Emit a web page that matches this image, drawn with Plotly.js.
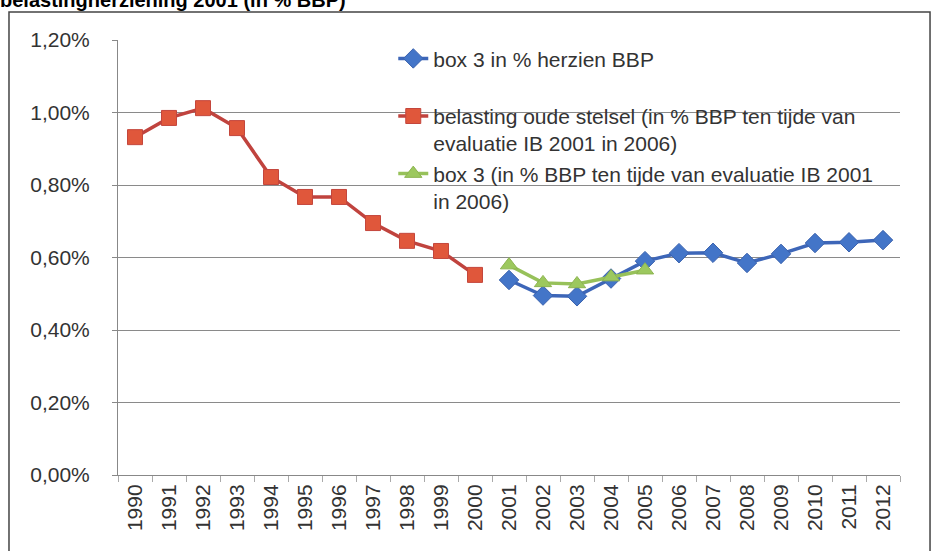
<!DOCTYPE html>
<html>
<head>
<meta charset="utf-8">
<script src="https://cdn.plot.ly/plotly-3.0.1.min.js"></script>
<style>
  html, body { margin: 0; padding: 0; background: #fff; }
  #chart { width: 932px; height: 551px; }
</style>
</head>
<body>
<div id="chart"></div>
<script>
// Years on the category axis
const years = ['1990', '1991', '1992', '1993', '1994', '1995', '1996', '1997', '1998', '1999', '2000',
               '2001', '2002', '2003', '2004', '2005', '2006', '2007', '2008', '2009', '2010', '2011', '2012'];

// belasting oude stelsel, 1990-2000
const oudeYears = ['1990', '1991', '1992', '1993', '1994', '1995', '1996', '1997', '1998', '1999', '2000'];
const oudeValues = [0.932, 0.985, 1.012, 0.957, 0.822, 0.767, 0.767, 0.695, 0.646, 0.618, 0.552];

// box 3 in % herzien BBP, 2001-2012
const herzienYears = ['2001', '2002', '2003', '2004', '2005', '2006', '2007', '2008', '2009', '2010', '2011', '2012'];
const herzienValues = [0.538, 0.495, 0.493, 0.542, 0.590, 0.612, 0.613, 0.585, 0.610, 0.640, 0.642, 0.648];

// box 3 (evaluatie 2006), 2001-2005
const evalYears = ['2001', '2002', '2003', '2004', '2005'];
const evalValues = [0.579, 0.530, 0.527, 0.546, 0.565];

const FONT = 'Liberation Sans, Arial, sans-serif';

const traces = [
    {
        x: herzienYears,
        y: herzienValues,
        name: 'box 3 in % herzien BBP<br> ',
        type: 'scatter',
        mode: 'lines+markers',
        line: { color: '#3D66B8', width: 3.5 },
        marker: { symbol: 'diamond', size: 15, color: '#4375C8', line: { color: '#3A62AE', width: 1 } }
    },
    {
        x: oudeYears,
        y: oudeValues,
        name: 'belasting oude stelsel (in % BBP ten tijde van<br>evaluatie IB 2001 in 2006)',
        type: 'scatter',
        mode: 'lines+markers',
        line: { color: '#C0433E', width: 3.5 },
        marker: { symbol: 'square', size: 15, color: '#E0573B', line: { color: '#C4463C', width: 1 } }
    },
    {
        x: evalYears,
        y: evalValues,
        name: 'box 3 (in % BBP ten tijde van evaluatie IB 2001<br>in 2006)',
        type: 'scatter',
        mode: 'lines+markers',
        line: { color: '#97C15A', width: 3.5 },
        marker: { symbol: 'triangle-up', size: 15, color: '#9CC85E', line: { color: '#8DB450', width: 1 } }
    }
];

const layout = {
    width: 932,
    height: 551,
    margin: { l: 118, r: 32, t: 40, b: 76 },
    paper_bgcolor: '#FFFFFF',
    plot_bgcolor: '#FFFFFF',
    separators: ', ',
    font: { family: FONT, color: '#333333' },
    title: {
        text: '<b>belastingherziening 2001 (in % BBP)</b>',
        font: { family: FONT, size: 20, color: '#000000' },
        xref: 'container',
        yref: 'container',
        x: 0,
        xanchor: 'left',
        y: 1,
        yanchor: 'middle',
        pad: { t: 0, l: 0, r: 0, b: 0 }
    },
    xaxis: {
        type: 'category',
        categoryorder: 'array',
        categoryarray: years,
        tickvals: years,
        range: [-0.5, 22.5],
        showgrid: false,
        showline: true,
        linecolor: '#888888',
        linewidth: 1,
        ticks: 'outside',
        tickson: 'boundaries',
        ticklen: 6,
        tickcolor: '#AAAAAA',
        tickangle: -90,
        tickfont: { family: FONT, size: 21, color: '#333333' }
    },
    yaxis: {
        range: [0, 1.2],
        dtick: 0.2,
        tickformat: '.2f',
        ticksuffix: '%',
        showgrid: true,
        gridcolor: '#8A8A8A',
        gridwidth: 1,
        zeroline: false,
        showline: true,
        linecolor: '#888888',
        ticks: 'outside',
        ticklen: 5,
        tickcolor: '#888888',
        ticklabelstandoff: 18,
        tickfont: { family: FONT, size: 21, color: '#333333' }
    },
    showlegend: true,
    legend: {
        x: 0.352,
        xanchor: 'left',
        y: 1.004,
        yanchor: 'top',
        valign: 'top',
        bgcolor: 'rgba(255,255,255,0)',
        borderwidth: 0,
        tracegroupgap: 0,
        font: { family: FONT, size: 21, color: '#333333' }
    },
    shapes: [
        {
            type: 'rect',
            xref: 'paper',
            yref: 'paper',
            x0: -0.1394,
            x1: 1.0384,
            y0: -0.2,
            y1: 1.0644,
            line: { color: '#444444', width: 1.5 }
        }
    ]
};

Plotly.newPlot('chart', traces, layout, { displayModeBar: false, staticPlot: true });
</script>
</body>
</html>
